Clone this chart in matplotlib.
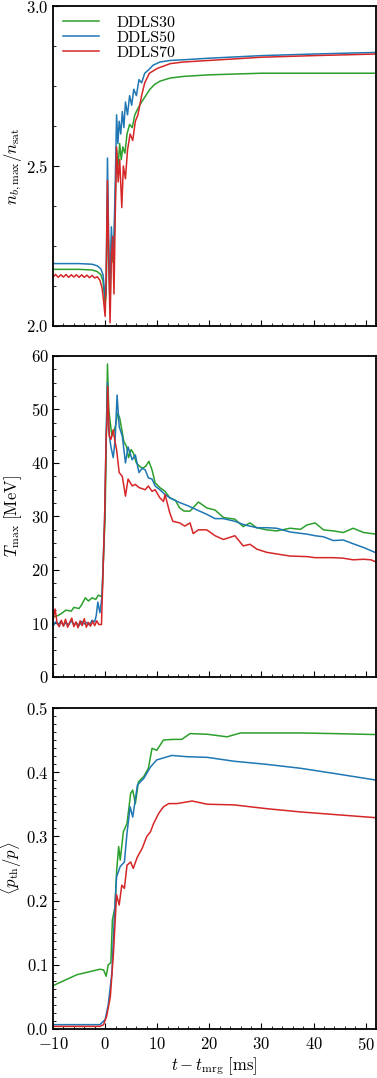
import matplotlib
matplotlib.use("Agg")
import matplotlib.pyplot as plt
from matplotlib.ticker import MultipleLocator

plt.rcParams["font.family"] = "serif"
plt.rcParams["font.serif"] = ["cmr10", "DejaVu Serif"]
plt.rcParams["mathtext.fontset"] = "cm"
plt.rcParams["axes.formatter.use_mathtext"] = True
plt.rcParams["font.size"] = 12

labels = ["DDLS30", "DDLS50", "DDLS70"]
colors = ["#2ca02c", "#1f77b4", "#d62728"]

# --- panel 1: n_b,max / n_sat ---
t_n30 = [-10, -5, -2.5, -1.5, -0.8, -0.4, 0.0, 0.2, 0.45, 0.7, 0.95, 1.2, 1.45, 1.7, 1.95,
         2.2, 2.5, 2.8, 3.1, 3.4, 3.8, 4.2, 4.7, 5.2, 5.7, 6.3, 7.0, 7.8, 8.6, 9.5, 10.5,
         12.5, 15, 20, 30, 40, 52]
n30 = [2.177, 2.177, 2.175, 2.17, 2.16, 2.14, 2.07, 2.10, 2.40, 2.20, 2.06, 2.27, 2.20, 2.24, 2.40,
       2.55, 2.50, 2.57, 2.52, 2.56, 2.54, 2.60, 2.63, 2.62, 2.66, 2.68, 2.70, 2.72, 2.74, 2.755, 2.765,
       2.775, 2.78, 2.785, 2.79, 2.79, 2.79]

t_n50 = [-10, -5, -2.5, -1.5, -0.8, -0.4, 0.0, 0.2, 0.45, 0.7, 0.95, 1.2, 1.45, 1.7, 1.95,
         2.2, 2.45, 2.7, 3.0, 3.3, 3.6, 3.9, 4.3, 4.7, 5.1, 5.5, 6.0, 6.5, 7.0, 7.6, 8.3,
         9.2, 10.5, 12.5, 15, 20, 30, 40, 52]
n50 = [2.195, 2.195, 2.193, 2.188, 2.178, 2.16, 2.09, 2.12, 2.525, 2.25, 2.10, 2.31, 2.22, 2.28, 2.45,
       2.66, 2.57, 2.64, 2.60, 2.67, 2.62, 2.70, 2.66, 2.72, 2.69, 2.74, 2.72, 2.77, 2.76, 2.79, 2.80,
       2.815, 2.825, 2.83, 2.832, 2.837, 2.845, 2.85, 2.855]

t_n70 = [-10, -9.5, -9, -8.5, -8, -7.5, -7, -6.5, -6, -5.5, -5, -4.5, -4, -3.5, -3, -2.5, -2,
         -1.5, -1, -0.6, -0.3, 0.0, 0.2, 0.45, 0.7, 0.95, 1.2, 1.45, 1.7, 1.95, 2.2, 2.5, 2.8,
         3.2, 3.5, 3.9, 4.3, 4.8, 5.3, 5.8, 6.3, 7.0, 7.6, 8.5, 10, 12.5, 15, 20, 30, 40, 52]
n70 = [2.153, 2.161, 2.152, 2.160, 2.153, 2.161, 2.152, 2.160, 2.153, 2.160, 2.152, 2.160, 2.152,
       2.159, 2.151, 2.158, 2.150, 2.154, 2.143, 2.12, 2.08, 2.03, 2.15, 2.455, 2.20, 2.01, 2.22,
       2.28, 2.10, 2.35, 2.56, 2.45, 2.52, 2.37, 2.50, 2.46, 2.55, 2.60, 2.58, 2.64, 2.66, 2.72,
       2.76, 2.79, 2.805, 2.82, 2.825, 2.83, 2.84, 2.845, 2.85]

# --- panel 2: T_max [MeV] ---
t_T30 = [-10, -9, -8.5, -7.5, -6.5, -6, -5, -4.5, -3.8, -3.2, -2.5, -1.8, -1.3, -0.6, 0.0,
         0.45, 0.7, 1.0, 1.3, 1.6, 2.0, 2.4, 2.8, 3.2, 3.6, 4.1, 4.5, 5.0, 5.4, 6.0, 6.6, 7.2,
         7.8, 8.4, 9.0, 9.6, 10.5, 11.5, 12.4, 13.5, 14.3, 15.2, 16.3, 17.9, 19.5, 21.1, 22.7,
         24.9, 26.5, 27.8, 29.1, 31, 32.9, 35.5, 37.5, 38.7, 40.3, 41.9, 43.8, 45.7, 47.6,
         49.6, 52]
T30 = [11.2, 11.5, 11.8, 12.5, 12.3, 13.0, 12.8, 13.5, 14.8, 14.2, 14.8, 14.5, 15.3, 15.0, 30.0,
       58.5, 50.0, 47.5, 45.0, 45.6, 47.0, 49.3, 48.4, 46.2, 44.0, 43.1, 41.0, 42.5, 41.9, 40.0,
       39.4, 39.0, 39.4, 40.3, 38.7, 36.3, 35.4, 34.7, 33.5, 33.0, 31.6, 31.0, 31.0, 32.7, 31.6,
       31.2, 29.8, 29.5, 28.1, 28.8, 27.9, 27.5, 27.3, 27.8, 27.6, 28.4, 28.8, 27.5, 27.3, 27.0,
       27.8, 27.0, 26.7]

t_T50 = [-10, -9.5, -9, -8.5, -8, -7.5, -7, -6.5, -6, -5.5, -5, -4.5, -4, -3.5, -3, -2.5, -2,
         -1.7, -1.4, -1.0, -0.6, -0.1, 0.2, 0.45, 0.7, 1.1, 1.55, 1.9, 2.3, 2.7, 3.3, 3.9, 4.4,
         5.2, 5.8, 6.5, 7.1, 7.7, 8.3, 9.0, 9.6, 10.5, 11.5, 12.4, 13.0, 14.3, 15.9, 17.9, 19.5,
         21.1, 22.7, 24.9, 26.5, 29.1, 31, 32.9, 35.5, 38.7, 40.3, 41.9, 43.8, 45.7, 47.6,
         49.6, 52]
T50 = [9.5, 10.3, 9.8, 10.4, 9.6, 10.2, 9.7, 10.5, 9.8, 10.1, 9.6, 10.4, 9.9, 10.2, 9.7, 10.6,
       10.3, 11.5, 14.0, 12.0, 15.0, 29.5, 45.0, 55.0, 46.0, 43.1, 41.0, 44.0, 52.7, 46.8, 45.0,
       40.0, 43.0, 40.6, 41.5, 38.2, 39.0, 38.7, 37.2, 37.0, 35.7, 35.0, 34.1, 33.5, 33.2, 32.6,
       32.0, 31.1, 30.4, 29.6, 29.6, 29.1, 28.5, 27.9, 27.9, 27.8, 27.1, 26.7, 26.4, 26.2, 25.5,
       25.6, 24.9, 24.2, 23.2]

t_T70 = [-10, -9.6, -9.2, -8.8, -8.4, -8, -7.6, -7.2, -6.8, -6.4, -6, -5.6, -5.2, -4.8, -4.4,
         -4, -3.6, -3.2, -2.8, -2.4, -2, -1.6, -1.2, -0.7, -0.1, 0.2, 0.35, 0.5, 0.8, 1.1, 1.55,
         1.9, 2.2, 2.7, 3.3, 3.9, 4.4, 5.2, 5.8, 6.5, 7.7, 8.3, 9.0, 9.6, 10.5, 11.2, 11.5, 12.4,
         13.0, 14.3, 15.3, 16.3, 16.9, 17.9, 19.5, 21.1, 22.7, 24.9, 26.5, 27.8, 29.1, 31, 32.9,
         35.5, 38.7, 40.3, 41.9, 43.8, 45.7, 47.6, 49.6, 51, 52]
T70 = [10.5, 12.7, 10.0, 9.4, 10.6, 9.5, 10.8, 9.3, 10.2, 11.0, 9.4, 10.3, 9.2, 10.5, 9.6, 10.9,
       9.3, 10.2, 9.5, 10.4, 9.6, 10.5, 9.8, 9.8, 29.5, 45.0, 47.5, 54.3, 45.0, 44.4, 46.2, 44.0,
       42.5, 38.2, 37.5, 33.8, 37.0, 35.7, 36.0, 35.4, 35.0, 35.7, 34.7, 35.0, 33.5, 32.8, 34.1,
       30.7, 29.1, 28.8, 28.2, 28.8, 26.8, 27.5, 27.5, 26.4, 25.7, 26.4, 24.5, 24.8, 23.9, 23.3,
       23.0, 22.6, 22.5, 22.3, 22.3, 22.3, 22.2, 21.9, 22.0, 21.9, 21.5]

# --- panel 3: <p_th/p> ---
t_p30 = [-10, -5.4, -1.0, -0.3, 0.2, 0.6, 1.1, 1.4, 1.9, 2.2, 2.6, 2.9, 3.5, 4.2, 4.9, 5.3,
         5.8, 6.4, 7.4, 8.3, 9.0, 9.9, 11.2, 13.1, 14.7, 16.3, 19.6, 23.4, 26.0, 31.0, 37.5,
         43.9, 52]
p30 = [0.0674, 0.0845, 0.093, 0.092, 0.082, 0.100, 0.103, 0.170, 0.190, 0.245, 0.284, 0.263,
       0.307, 0.320, 0.367, 0.372, 0.351, 0.385, 0.393, 0.406, 0.437, 0.434, 0.450, 0.451,
       0.451, 0.460, 0.459, 0.455, 0.461, 0.461, 0.461, 0.460, 0.4585]

t_p50 = [-10, -1.0, 0.0, 0.6, 1.3, 1.8, 2.2, 2.9, 3.7, 4.2, 4.8, 5.3, 6.2, 7.4, 8.7, 9.9, 12.8,
         15.7, 19.6, 24.7, 31.1, 37.5, 43.9, 52]
p50 = [0.0067, 0.0067, 0.0145, 0.038, 0.087, 0.180, 0.237, 0.253, 0.260, 0.305, 0.346, 0.330,
       0.380, 0.390, 0.408, 0.419, 0.426, 0.424, 0.423, 0.417, 0.412, 0.406, 0.398, 0.3876]

t_p70 = [-10, -1.0, -0.3, 0.3, 1.0, 1.6, 2.2, 2.7, 3.2, 3.7, 4.2, 4.9, 5.4, 6.2, 7.1, 8.0, 8.7,
         9.3, 10.3, 11.2, 12.2, 13.8, 16.7, 19.6, 24.7, 31.1, 37.5, 43.9, 52]
p70 = [0.004, 0.004, 0.0067, 0.020, 0.050, 0.118, 0.209, 0.193, 0.224, 0.219, 0.255, 0.260,
       0.250, 0.268, 0.281, 0.300, 0.307, 0.320, 0.336, 0.346, 0.351, 0.351, 0.355, 0.350,
       0.349, 0.343, 0.338, 0.334, 0.329]

fig = plt.figure(figsize=(3.77, 10.78), dpi=100)
ax1 = fig.add_axes([0.1406, 0.6976, 0.857, 0.2968])
ax2 = fig.add_axes([0.1406, 0.3720, 0.857, 0.2978])
ax3 = fig.add_axes([0.1406, 0.0455, 0.857, 0.2978])

for t, y, c, lab in zip([t_n30, t_n50, t_n70], [n30, n50, n70], colors, labels):
    ax1.plot(t, y, color=c, lw=1.1, label=lab)
for t, y, c in zip([t_T30, t_T50, t_T70], [T30, T50, T70], colors):
    ax2.plot(t, y, color=c, lw=1.1)
for t, y, c in zip([t_p30, t_p50, t_p70], [p30, p50, p70], colors):
    ax3.plot(t, y, color=c, lw=1.1)

ax1.set_ylim(2.0, 3.0)
ax1.yaxis.set_major_locator(MultipleLocator(0.5))
ax1.yaxis.set_minor_locator(MultipleLocator(0.125))
ax1.set_ylabel(r"$n_{b,\mathrm{max}}/n_{\mathrm{sat}}$")

ax2.set_ylim(0, 60)
ax2.yaxis.set_major_locator(MultipleLocator(10))
ax2.yaxis.set_minor_locator(MultipleLocator(2.5))
ax2.set_ylabel(r"$T_{\mathrm{max}}\ [\mathrm{MeV}]$")

ax3.set_ylim(0.0, 0.5)
ax3.yaxis.set_major_locator(MultipleLocator(0.1))
ax3.yaxis.set_minor_locator(MultipleLocator(0.0125))
ax3.set_ylabel(r"$\langle p_{\mathrm{th}}/p\rangle$")
ax3.set_xlabel(r"$t - t_{\mathrm{mrg}}\ [\mathrm{ms}]$", labelpad=2)

for ax in (ax1, ax2, ax3):
    ax.set_xlim(-10, 52)
    ax.xaxis.set_major_locator(MultipleLocator(10))
    ax.xaxis.set_minor_locator(MultipleLocator(2))
    ax.tick_params(which="both", direction="in", top=False, right=False)
    ax.tick_params(which="major", length=4.5, width=0.8)
    ax.tick_params(which="minor", length=2.5, width=0.6)
    ax.tick_params(axis="x", pad=5)
    ax.tick_params(axis="y", pad=3)
    for s in ax.spines.values():
        s.set_linewidth(1.3)
    ax.yaxis.set_label_coords(-0.09, 0.5)
for ax in (ax1, ax2):
    ax.tick_params(labelbottom=False)

ax1.legend(loc="upper left", frameon=False, handlelength=2.3, borderaxespad=0.2,
           labelspacing=0.05, handletextpad=1.1, fontsize=11.5)

fig.savefig("out.png", dpi=100)
